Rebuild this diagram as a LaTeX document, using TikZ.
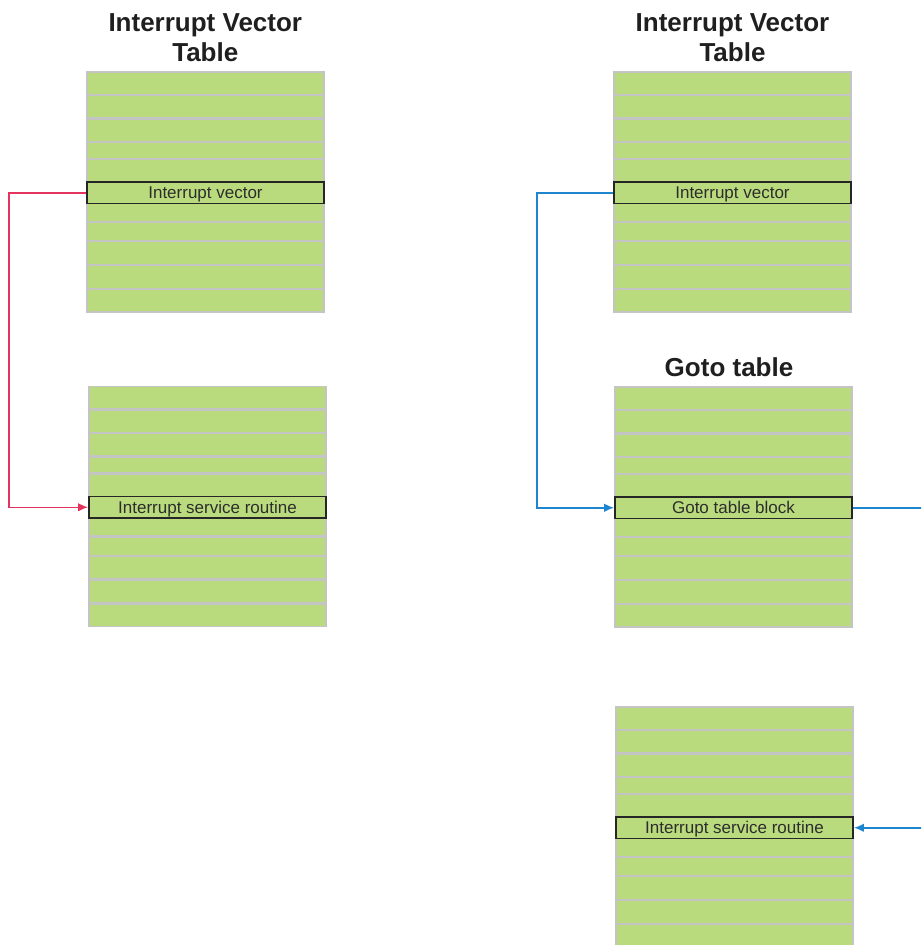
\documentclass[tikz,border=0pt]{standalone}
\usepackage{fontspec}
\setmainfont{Liberation Sans}
\usetikzlibrary{arrows.meta}
\definecolor{cellgreen}{RGB}{185,219,125}
\definecolor{sepgray}{RGB}{196,196,196}
\definecolor{linkred}{RGB}{228,52,94}
\definecolor{linkblue}{RGB}{30,134,207}
\definecolor{txtdark}{RGB}{45,45,45}
\tikzset{
  hlrow/.style={draw=black!85, line width=1.8pt, fill=cellgreen, minimum width=237pt,
    minimum height=21.5pt, inner sep=0pt, text height=12pt, text depth=0pt,
    font=\fontsize{17}{19}\selectfont, text=txtdark},
  septhin/.style={draw=sepgray, line width=2.2pt},
  tabframe/.style={draw=sepgray, line width=1.4pt},
  tabtitle/.style={font=\bfseries\fontsize{26}{30}\selectfont, text=black!88, align=center, inner sep=0pt},
  redlink/.style={draw=linkred, line width=1.5pt, -{Latex[length=10pt,width=8.5pt]}},
  bluelink/.style={draw=linkblue, line width=1.5pt, -{Latex[length=10pt,width=8.5pt]}}
}
\newcommand{\memtab}[4]{%
  \begin{scope}[shift={(#2,#3)}]
    \fill[cellgreen] (0,0) rectangle (237,240);
    \foreach \yy in {23,46.5,70,87,150,169.3,193,217} \draw[septhin] (0,\yy) -- (237,\yy);
    \draw[tabframe] (0,0) rectangle (237,240);
    \node[hlrow] (#1) at (118.5,120.75) {#4};
  \end{scope}}
\begin{document}
\begin{tikzpicture}[x=1pt,y=-1pt]
\useasboundingbox (0,0) rectangle (921,945);
\clip (0,0) rectangle (921,945);
\node[tabtitle, anchor=base] (t1) at (205.3,61) {Interrupt Vector\\Table};
\node[tabtitle, anchor=base] (t3) at (732.5,61) {Interrupt Vector\\Table};
\node[tabtitle, anchor=base] (t4) at (729,376.7) {Goto table};
\memtab{ivl}{87}{72}{Interrupt vector}
\memtab{isrl}{89}{386.5}{Interrupt service routine}
\memtab{ivr}{614}{72}{Interrupt vector}
\memtab{gotob}{615}{387}{Goto table block}
\memtab{isrr}{616}{707}{Interrupt service routine}
\draw[redlink] (ivl.west) -- ([xshift=-77pt]ivl.west) |- (isrl.west);
\draw[bluelink] (ivr.west) -- ([xshift=-76pt]ivr.west) |- (gotob.west);
\coordinate (offright) at ([xshift=80pt]gotob.east);
\draw[bluelink] (gotob.east) -- (offright) |- (isrr.east);
\end{tikzpicture}
\end{document}
